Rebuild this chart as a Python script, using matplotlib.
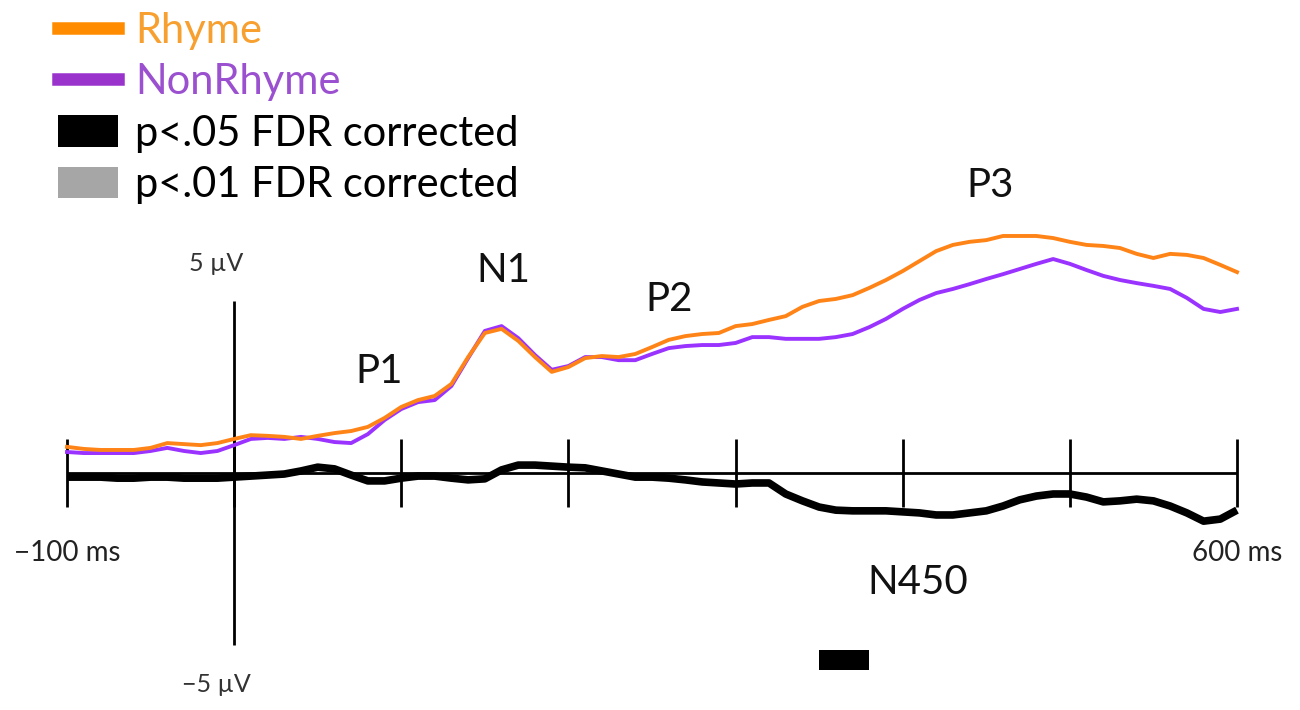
import numpy as np
import matplotlib
matplotlib.use('Agg')
import matplotlib.pyplot as plt
from matplotlib.lines import Line2D
from matplotlib.patches import Patch

plt.rcParams['font.family'] = ['Lato', 'DejaVu Sans']

# ERP waveforms, 10 ms steps, values in microvolts
time_ms = np.arange(-100, 601, 10)

rhyme_uv = [0.76, 0.70, 0.67, 0.67, 0.67, 0.73, 0.87, 0.84, 0.81, 0.87,
            0.99, 1.10, 1.08, 1.05, 0.99, 1.08, 1.16, 1.22, 1.34, 1.60,
            1.92, 2.12, 2.24, 2.59, 3.37, 4.07, 4.19, 3.84, 3.37, 2.94,
            3.08, 3.34, 3.40, 3.37, 3.46, 3.66, 3.87, 3.98, 4.04, 4.07,
            4.27, 4.33, 4.45, 4.56, 4.83, 5.00, 5.06, 5.17, 5.38, 5.61,
            5.87, 6.16, 6.45, 6.63, 6.72, 6.77, 6.89, 6.89, 6.89, 6.83,
            6.72, 6.63, 6.60, 6.54, 6.37, 6.25, 6.37, 6.34, 6.25, 6.05,
            5.84]

nonrhyme_uv = [0.61, 0.58, 0.58, 0.58, 0.58, 0.64, 0.73, 0.64, 0.58, 0.64,
               0.81, 0.99, 1.02, 0.99, 1.05, 0.99, 0.90, 0.87, 1.13, 1.54,
               1.86, 2.06, 2.12, 2.53, 3.34, 4.13, 4.27, 3.92, 3.43, 3.00,
               3.11, 3.37, 3.37, 3.28, 3.28, 3.46, 3.63, 3.69, 3.72, 3.72,
               3.78, 3.95, 3.95, 3.90, 3.90, 3.90, 3.95, 4.04, 4.24, 4.48,
               4.77, 5.03, 5.23, 5.35, 5.49, 5.64, 5.78, 5.93, 6.08, 6.22,
               6.08, 5.90, 5.73, 5.61, 5.52, 5.44, 5.35, 5.09, 4.77, 4.68,
               4.77]

diff_uv = [-0.12, -0.12, -0.12, -0.15, -0.15, -0.12, -0.12, -0.15, -0.15, -0.15,
           -0.12, -0.09, -0.06, -0.03, 0.06, 0.17, 0.12, -0.06, -0.23, -0.23,
           -0.15, -0.09, -0.09, -0.15, -0.20, -0.17, 0.09, 0.23, 0.23, 0.20,
           0.17, 0.15, 0.06, -0.03, -0.12, -0.12, -0.15, -0.20, -0.26, -0.29,
           -0.32, -0.29, -0.29, -0.61, -0.81, -0.99, -1.08, -1.10, -1.10, -1.10,
           -1.13, -1.16, -1.22, -1.22, -1.16, -1.10, -0.96, -0.78, -0.67, -0.61,
           -0.61, -0.70, -0.84, -0.81, -0.76, -0.81, -0.96, -1.16, -1.40, -1.34,
           -1.08]

# significant window (p<.05 FDR corrected)
sig05_start, sig05_end = 350, 380

components = ['P1', 'N1', 'P2', 'P3', 'N450']
component_ms = [87, 161, 260, 452, 409]
component_uv = [2.94, 5.90, 5.03, 8.37, -3.17]

tick_ms = [-100, 0, 100, 200, 300, 400, 500, 600]

orange = '#FF8418'
purple = '#9A33FF'

# pixel scale of the original figure
px_per_ms = 1170 / 700
px_per_uv = 34.4

fig = plt.figure(figsize=(13, 7.1), dpi=100)
ax = fig.add_axes([0, 0, 1, 1])
ax.set_xlim(-100 - 67 / px_per_ms, 600 + 63 / px_per_ms)
ax.set_ylim(-(710 - 473) / px_per_uv, 473 / px_per_uv)
ax.axis('off')

# axes drawn at zero
ax.hlines(0, -100, 600, color='black', lw=2.0)
ax.vlines(0, -5, 5, color='black', lw=2.0)
ax.vlines(tick_ms, -1, 1, color='black', lw=2.0)

ax.plot(time_ms, diff_uv, color='black', lw=5.5, solid_capstyle='butt')
ax.plot(time_ms, nonrhyme_uv, color=purple, lw=2.8)
ax.plot(time_ms, rhyme_uv, color=orange, lw=2.8)

ax.fill_between([sig05_start, sig05_end], -5.73, -5.15, color='black', lw=0)

for name, t, v in zip(components, component_ms, component_uv):
    ax.text(t, v, name, fontsize=29, ha='center', va='center', color='#111111')

ax.text(-100, -2.33, '\u2212100 ms', fontsize=20, ha='center', va='center', color='#222222')
ax.text(600, -2.33, '600 ms', fontsize=20, ha='center', va='center', color='#222222')
ax.text(-10.5, 6.1, '5 \u00b5V', fontsize=18, ha='center', va='center', color='#333333')
ax.text(-10.5, -6.15, '\u22125 \u00b5V', fontsize=18, ha='center', va='center', color='#333333')

handles = [Line2D([], [], color='#FF8C00', lw=9),
           Line2D([], [], color='#9933CC', lw=9),
           Patch(facecolor='black'),
           Patch(facecolor='#A6A6A6')]
labels = ['Rhyme', 'NonRhyme', 'p<.05 FDR corrected', 'p<.01 FDR corrected']
leg = fig.legend(handles, labels, loc='upper left', bbox_to_anchor=(58 / 1300, 1 - 12 / 710),
                 frameon=False, fontsize=30, handlelength=1.45, handleheight=0.8,
                 handletextpad=0.4, labelspacing=0.32, borderpad=0, borderaxespad=0)
for txt, c in zip(leg.get_texts(), ['#F7A030', '#9B50D0', 'black', 'black']):
    txt.set_color(c)

fig.savefig('out.png', dpi=100)
